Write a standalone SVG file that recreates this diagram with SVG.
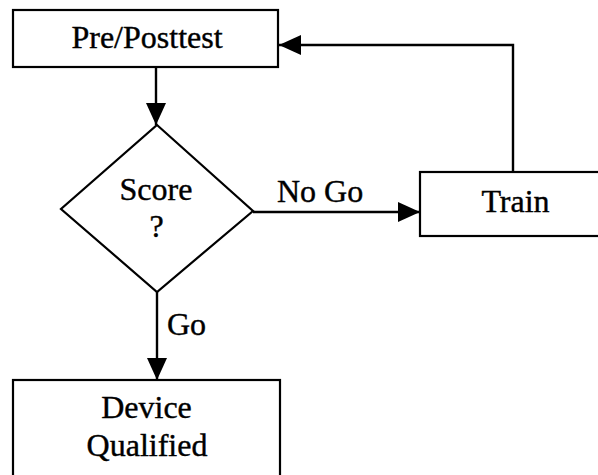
<svg xmlns="http://www.w3.org/2000/svg" width="598" height="475" viewBox="0 0 598 475">
<style>
.box{fill:#fff;stroke:#000;stroke-width:2.2}
.t{font-family:"Liberation Serif","Times New Roman",serif;font-size:32px;fill:#000;stroke:#000;stroke-width:0.4}
.m{text-anchor:middle}
.c{fill:none;stroke:#000;stroke-width:2.4}
</style>
<defs>
<marker id="ah" viewBox="0 0 22 20" refX="22" refY="10" markerWidth="22" markerHeight="20" markerUnits="userSpaceOnUse" orient="auto">
<path d="M0,0 L22,10 L0,20 z" fill="#000"/>
</marker>
</defs>
<rect width="598" height="475" fill="#fff"/>
<g id="connectors">
<line class="c" x1="156" y1="67" x2="156" y2="125" marker-end="url(#ah)"/>
<line class="c" x1="253" y1="212" x2="420" y2="212" marker-end="url(#ah)"/>
<polyline class="c" points="513,172 513,45 279,45" marker-end="url(#ah)"/>
<line class="c" x1="157" y1="292" x2="157" y2="380" marker-end="url(#ah)"/>
</g>
<g id="pretest">
<rect class="box" x="13" y="10" width="265" height="57"/>
<text class="t m" x="147" y="48">Pre/Posttest</text>
</g>
<g id="score">
<polygon class="box" points="157,125 253,211 157,292 61,209"/>
<text class="t m" x="156" y="200">Score</text>
<text class="t m" x="156.5" y="237">?</text>
</g>
<g id="train">
<rect class="box" x="420" y="172" width="190" height="64"/>
<text class="t m" x="515.5" y="212">Train</text>
</g>
<g id="device">
<rect class="box" x="13" y="380" width="267" height="110"/>
<text class="t m" x="146.5" y="418">Device</text>
<text class="t m" x="147" y="456">Qualified</text>
</g>
<g id="labels">
<text class="t" x="277" y="202">No Go</text>
<text class="t" x="167" y="335">Go</text>
</g>
</svg>
